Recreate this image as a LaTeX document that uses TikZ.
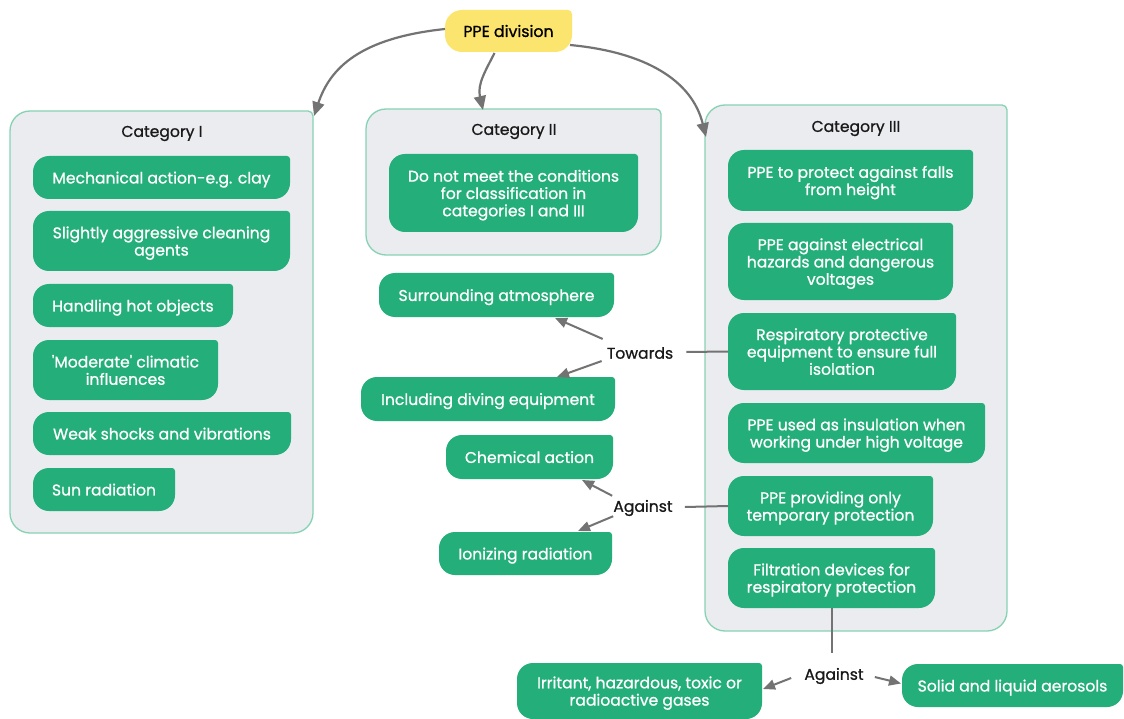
\documentclass[tikz,border=0pt]{standalone}
\usepackage{fontspec}
\setmainfont{Poppins}
\newfontfamily\popmed{Poppins}[FakeBold=0.9]
\usetikzlibrary{calc,backgrounds,arrows.meta}

\definecolor{leafgreen}{HTML}{23AE7A}
\definecolor{panelfill}{HTML}{EBECF0}
\definecolor{panelline}{HTML}{86D3B3}
\definecolor{rootyellow}{HTML}{FCE56F}
\definecolor{linkgray}{HTML}{737373}

% box outline: three large corners, a small top-right corner
\newcommand\cornerbox[4]{%
  \path[#4] let \p1=(#1.south west), \p2=(#1.north east) in
    (\x1,\y1+#2) -- (\x1,\y2-#2) arc[start angle=180,end angle=90,radius=#2]
    -- (\x2-#3,\y2) arc[start angle=90,end angle=0,radius=#3]
    -- (\x2,\y1+#2) arc[start angle=0,end angle=-90,radius=#2]
    -- (\x1+#2,\y1) arc[start angle=270,end angle=180,radius=#2] -- cycle;}

% name, left, top, width, height, text
\newcommand\leaf[6]{%
  \node[leaftext, minimum width=#4pt, minimum height=#5pt, anchor=north west] (#1) at (#2,#3) {\raisebox{-2.5pt}[\height][\depth]{\begin{tabular}{@{}c@{}}#6\end{tabular}}};
  \begin{pgfonlayer}{background}\cornerbox{#1}{16pt}{3pt}{fill=leafgreen}\end{pgfonlayer}}

% name, left, top, width, height
\newcommand\panel[5]{%
  \node[boxframe, minimum width=#4pt, minimum height=#5pt, anchor=north west] (#1) at (#2,#3) {};
  \begin{pgfonlayer}{background}\cornerbox{#1}{20pt}{5pt}{fill=panelfill, draw=panelline, line width=1.3pt}\end{pgfonlayer}}

\tikzset{
  boxframe/.style={inner sep=0pt, outer sep=0pt},
  leaftext/.style={boxframe, text=white, font=\popmed\fontsize{15.6}{17.3}\selectfont\renewcommand\arraystretch{1}},
  heading/.style={inner sep=1pt, text=black!90, font=\popmed\fontsize{15.6}{17.3}\selectfont},
  link/.style={draw=linkgray, line width=2pt, -{Triangle[length=12pt,width=10pt]}},
  bigarrow/.style={draw=linkgray, line width=2.2pt, -{Triangle[length=14pt,width=12pt]}},
  plainlink/.style={draw=linkgray, line width=2pt},
}

\begin{document}
\begin{tikzpicture}[x=1pt,y=-1pt]
\useasboundingbox (0,0) rectangle (1124,719);
\begin{pgfonlayer}{background}
\fill[white] (0,0) rectangle (1124,719);
\end{pgfonlayer}

% root
\node[boxframe, minimum width=127pt, minimum height=42pt, anchor=north west,
      font=\popmed\fontsize{15.8}{17.3}\selectfont] (root) at (445,10) {PPE division};
\begin{pgfonlayer}{background}\cornerbox{root}{17pt}{4pt}{fill=rootyellow}\end{pgfonlayer}

% category panels
\panel{cat1}{10}{111}{303}{422}
\panel{cat2}{366}{109}{295}{146}
\panel{cat3}{705}{105}{302}{526}
\node[heading] (cat1title) at (162,133.5) {Category I};
\node[heading] (cat2title) at (514,131.5) {Category II};
\node[heading] (cat3title) at (856,128.5) {Category III};

% Category I
\leaf{mech}{33}{156}{257}{43}{Mechanical action-e.g. clay}
\leaf{clean}{33}{211}{257}{60}{Slightly aggressive cleaning\\agents}
\leaf{hot}{33}{284}{200}{43}{Handling hot objects}
\leaf{clim}{33}{340}{185}{60}{'Moderate' climatic\\influences}
\leaf{shock}{33}{412}{258}{43}{Weak shocks and vibrations}
\leaf{sun}{33}{468}{142}{43}{Sun radiation}

% Category II
\leaf{cond}{389}{154}{249}{78}{Do not meet the conditions\\for classification in\\categories I and III}

% Category III
\leaf{falls}{728}{150}{245}{61}{PPE to protect against falls\\from height}
\leaf{elec}{728}{223}{225}{77}{PPE against electrical\\hazards and dangerous\\voltages}
\leaf{resp}{728}{313}{228}{77}{Respiratory protective\\equipment to ensure full\\isolation}
\leaf{insul}{728}{403}{257}{60}{PPE used as insulation when\\working under high voltage}
\leaf{temp}{728}{476}{205}{60}{PPE providing only\\temporary protection}
\leaf{filt}{728}{548}{207}{60}{Filtration devices for\\respiratory protection}

% outer targets
\leaf{atmo}{379}{273}{235}{44}{Surrounding atmosphere}
\leaf{dive}{361}{377}{254}{44}{Including diving equipment}
\leaf{chem}{446}{435}{167}{44}{Chemical action}
\leaf{ioni}{439}{532}{173}{43}{Ionizing radiation}
\leaf{gases}{517}{663}{245}{56}{Irritant, hazardous, toxic or\\radioactive gases}
\leaf{aero}{902}{664}{221}{43}{Solid and liquid aerosols}

% relation labels
\node[heading] (towards) at (640,353) {Towards};
\node[heading] (against1) at (643,508) {Against};
\node[heading] (against2) at (834,676) {Against};

% root to panels
\draw[bigarrow] ($(root.west)+(0,-2)$) .. controls (360,38) and (330,68) .. ($(cat1.north east)+(1,5)$);
\draw[bigarrow] ($(root.south)+(-14,1)$) .. controls (486,70) and (477,84) .. ($(cat2.north west)+(117,1)$);
\draw[bigarrow] ($(root.east)+(-2,14)$) .. controls (645,52) and (692,80) .. ($(cat3.north west)+(1,32)$);

% towards
\draw[plainlink] (resp.west) -- ($(towards.east)+(12,-1)$);
\draw[link] ($(towards.north west)+(-3,-7)$) -- ($(atmo.south west)+(176,1)$);
\draw[link] ($(towards.south west)+(-4,1)$) -- ($(dive.north west)+(196,0)$);

% against (temporary protection)
\draw[plainlink] (temp.west) -- ($(against1.east)+(11,-1)$);
\draw[link] ($(against1.north west)+(0,-3)$) -- ($(chem.south west)+(136,1)$);
\draw[link] ($(against1.south west)+(1,-1)$) -- ($(ioni.north west)+(139,-1)$);

% against (filtration)
\coordinate (filtdrop) at ($(filt.south)+(0,45)$);
\draw[plainlink] (filt.south) -- (filtdrop);
\draw[link] ($(against2.west)+(-12,2)$) -- ($(gases.east)+(1,-2)$);
\draw[link] ($(against2.east)+(10,1)$) -- ($(aero.west)+(-1,-2)$);
\end{tikzpicture}
\end{document}
